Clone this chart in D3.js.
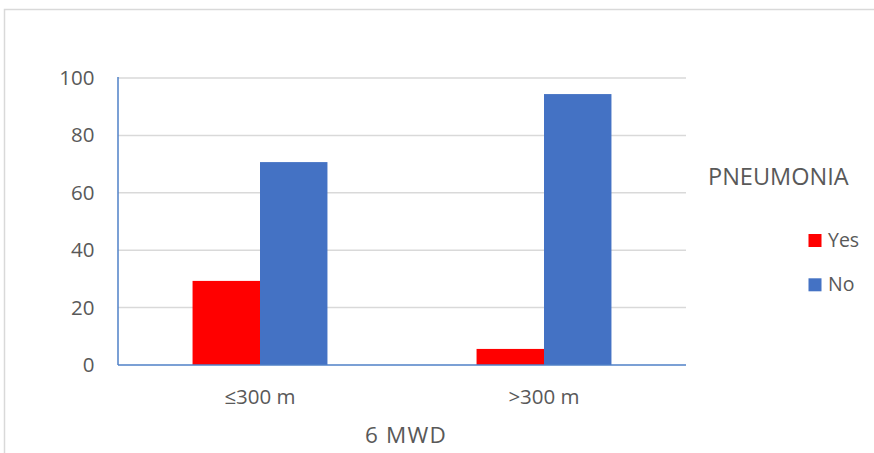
<!DOCTYPE html>
<html><head><meta charset="utf-8">
<script src="https://cdn.jsdelivr.net/npm/d3@7"></script>
<style>body{margin:0;background:#fff}svg{display:block}text{font-family:"Open Sans",sans-serif;fill:#595959}</style>
</head><body><svg id="c" width="874" height="453"></svg>
<script>
const categories = ["≤300 m", ">300 m"];
const seriesNames = ["Yes", "No"];
const yesValues = [29.3, 5.6];
const noValues = [70.7, 94.4];
const yTicks = [0, 20, 40, 60, 80, 100];
const colors = ["#FF0000", "#4472C4"];

const svg = d3.select("#c");
svg.append("rect").attr("x",4.5).attr("y",9.5).attr("width",900).attr("height",500)
  .attr("fill","none").attr("stroke","#d9d9d9").attr("stroke-width",1.5);

const m = {l:118, r:686, t:78, b:365};
const x = d3.scaleBand().domain(categories).range([m.l, m.r]).paddingInner(0.525).paddingOuter(0.2625);
const x1 = d3.scaleBand().domain(seriesNames).range([0, x.bandwidth()]);
const y = d3.scaleLinear().domain([0,100]).range([m.b, m.t]);

// gridlines
svg.append("g").selectAll("line").data(yTicks.filter(d=>d>0)).join("line")
  .attr("x1",m.l).attr("x2",m.r).attr("y1",d=>y(d)).attr("y2",d=>y(d))
  .attr("stroke","#d9d9d9").attr("stroke-width",1.5);

const data = categories.map((c,i)=>({cat:c, vals:[yesValues[i], noValues[i]]}));
svg.append("g").selectAll("g").data(data).join("g")
  .attr("transform",d=>`translate(${x(d.cat)},0)`)
  .selectAll("rect").data(d=>d.vals.map((v,j)=>({s:seriesNames[j],v,j}))).join("rect")
  .attr("x",d=>x1(d.s)).attr("width",x1.bandwidth())
  .attr("y",d=>y(d.v)).attr("height",d=>y(0)-y(d.v)).attr("fill",d=>colors[d.j]);

// axes lines
svg.append("line").attr("x1",m.l).attr("x2",m.l).attr("y1",m.t-1).attr("y2",m.b)
  .attr("stroke","#4f81c7").attr("stroke-width",1.5);
svg.append("line").attr("x1",m.l).attr("x2",m.r).attr("y1",m.b).attr("y2",m.b)
  .attr("stroke","#4f81c7").attr("stroke-width",1.5);

// y tick labels
svg.append("g").selectAll("text").data(yTicks).join("text")
  .attr("x",94.5).attr("y",d=>y(d)+7).attr("text-anchor","end")
  .style("font-size","20.5px").text(d=>d);

// x tick labels
svg.append("g").selectAll("text").data(categories).join("text")
  .attr("x",d=>x(d)+x.bandwidth()/2).attr("y",404).attr("text-anchor","middle")
  .style("font-size","20.5px").text(d=>d);

svg.append("text").attr("x",406).attr("y",443).attr("text-anchor","middle")
  .style("font-size","22.5px").style("letter-spacing","1.2px").text("6 MWD");

// legend
svg.append("text").attr("x",708).attr("y",185).style("font-size","23.5px").text("PNEUMONIA");
const lg = svg.append("g").selectAll("g").data(seriesNames).join("g")
  .attr("transform",(d,i)=>`translate(808.5,${234+i*44.3})`);
lg.append("rect").attr("width",13).attr("height",13).attr("fill",(d,i)=>colors[i]);
lg.append("text").attr("x",19.5).attr("y",13).style("font-size","19.5px").text(d=>d);
</script></body></html>
